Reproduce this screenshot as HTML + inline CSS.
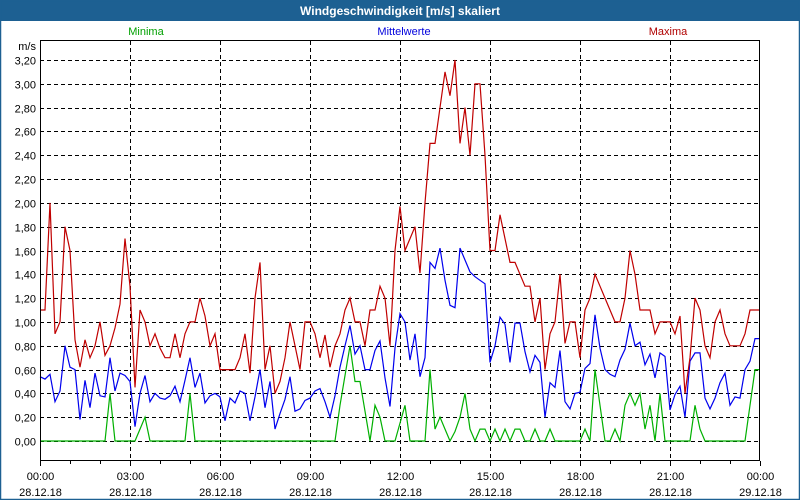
<!DOCTYPE html>
<html><head><meta charset="utf-8">
<style>
html,body{margin:0;padding:0;background:#fff;}
#wrap{position:relative;width:800px;height:500px;overflow:hidden;font-family:"Liberation Sans",sans-serif;}
svg text{font-family:"Liberation Sans",sans-serif;}
</style></head>
<body>
<div id="wrap">
<svg id="chart" width="800" height="500" xmlns="http://www.w3.org/2000/svg">
  <rect x="0" y="0" width="800" height="500" fill="#ffffff"/>
  <rect x="0" y="0" width="800" height="21" fill="#1d6092"/>
  <text x="400" y="15" text-anchor="middle" font-size="12" font-weight="bold" fill="#ffffff">Windgeschwindigkeit [m/s] skaliert</text>
  <rect x="0.5" y="0.5" width="799" height="499" fill="none" stroke="#1d6092" stroke-width="1.5"/>
  <text x="146" y="35" text-anchor="middle" font-size="11" fill="#00a000">Minima</text>
  <text x="404" y="35" text-anchor="middle" font-size="11" fill="#0000dd">Mittelwerte</text>
  <text x="668" y="35" text-anchor="middle" font-size="11" fill="#b00000">Maxima</text>
  <text x="36" y="50" text-anchor="end" font-size="11" fill="#000">m/s</text>
  <g id="grid"></g>
  <g id="series"></g>
  <rect x="40.5" y="40.5" width="719" height="420" fill="none" stroke="#000" stroke-width="1"/>
  <g id="axes"></g>
</svg>
</div>
<script>
const yTicks = [0,0.2,0.4,0.6,0.8,1.0,1.2,1.4,1.6,1.8,2.0,2.2,2.4,2.6,2.8,3.0,3.2];
const yTickLabels = ["0,00","0,20","0,40","0,60","0,80","1,00","1,20","1,40","1,60","1,80","2,00","2,20","2,40","2,60","2,80","3,00","3,20"];
const xTickHours = [0,3,6,9,12,15,18,21,24];
const xTickTimes = ["00:00","03:00","06:00","09:00","12:00","15:00","18:00","21:00","00:00"];
const xTickDates = ["28.12.18","28.12.18","28.12.18","28.12.18","28.12.18","28.12.18","28.12.18","28.12.18","29.12.18"];
const stepMinutes = 10;
const maxima = [1.1,1.1,2.0,0.9,1.0,1.8,1.6,0.85,0.62,0.85,0.7,0.8,1.0,0.72,0.8,0.95,1.15,1.7,1.3,0.45,1.1,1.0,0.8,0.9,0.78,0.7,0.7,0.9,0.7,0.9,1.0,1.0,1.2,1.05,0.8,0.9,0.6,0.6,0.6,0.6,0.7,0.9,0.57,1.2,1.5,0.6,0.8,0.4,0.5,0.7,1.0,0.8,0.6,1.0,1.0,0.9,0.7,0.89,0.62,0.8,0.9,1.1,1.2,1.0,1.0,0.8,1.1,1.1,1.3,1.2,0.8,1.6,1.97,1.6,1.7,1.8,1.41,2.0,2.5,2.5,2.8,3.1,2.9,3.2,2.5,2.8,2.4,3.0,3.0,2.4,1.6,1.6,1.9,1.7,1.5,1.5,1.4,1.3,1.3,1.0,1.2,0.6,0.9,1.0,1.4,0.82,1.0,1.0,0.7,1.1,1.2,1.4,1.3,1.2,1.1,1.0,1.0,1.2,1.6,1.4,1.1,1.1,1.1,0.9,1.0,1.0,1.0,0.9,1.05,0.4,0.7,1.2,1.1,0.8,0.7,1.0,1.1,0.9,0.8,0.8,0.8,0.9,1.1,1.1,1.1];
const mittelwerte = [0.54,0.52,0.56,0.33,0.42,0.8,0.62,0.6,0.18,0.51,0.28,0.57,0.38,0.37,0.7,0.42,0.57,0.55,0.5,0.12,0.4,0.55,0.33,0.4,0.36,0.35,0.38,0.46,0.33,0.51,0.7,0.45,0.57,0.32,0.38,0.4,0.37,0.17,0.36,0.32,0.42,0.4,0.17,0.37,0.6,0.28,0.5,0.1,0.23,0.35,0.54,0.25,0.27,0.34,0.36,0.42,0.44,0.33,0.2,0.38,0.62,0.8,0.97,0.73,0.8,0.6,0.6,0.76,0.84,0.53,0.29,0.78,1.07,1.0,0.68,0.9,0.54,0.7,1.5,1.45,1.62,1.35,1.14,1.12,1.62,1.52,1.42,1.38,1.35,1.32,0.66,0.8,1.04,0.98,0.66,0.99,0.99,0.75,0.58,0.72,0.66,0.2,0.49,0.45,0.76,0.33,0.27,0.4,0.41,0.61,0.65,1.06,0.78,0.6,0.56,0.54,0.68,0.77,0.99,0.8,0.83,0.64,0.73,0.53,0.74,0.71,0.26,0.39,0.46,0.2,0.67,0.74,0.74,0.36,0.27,0.36,0.49,0.57,0.3,0.37,0.36,0.6,0.67,0.86,0.86];
const minima = [0,0,0,0,0,0,0,0,0,0,0,0,0,0,0.4,0,0,0,0,0,0.1,0.2,0,0,0,0,0,0,0,0,0.4,0,0,0,0,0,0,0,0,0,0,0,0,0,0,0,0,0,0,0,0,0,0,0,0,0,0,0,0,0,0.3,0.55,0.8,0.5,0.5,0.25,0,0.3,0.2,0,0,0,0.15,0.3,0,0,0,0,0.6,0.1,0.2,0.1,0,0.08,0.2,0.4,0.1,0,0.1,0.1,0,0.1,0,0.1,0,0.1,0.1,0,0,0.1,0,0,0.1,0,0,0,0,0,0,0.1,0,0.6,0.3,0,0,0.1,0,0.3,0.4,0.3,0.4,0.1,0.3,0,0.4,0,0,0,0,0,0,0.3,0.1,0,0,0,0,0,0,0,0,0,0.3,0.6,0.6];

const NS = "http://www.w3.org/2000/svg";
const X0 = 40, X1 = 760, Y0V = 441, PX_PER_UNIT = 119.06;
function xScaleHour(h){ return X0 + h * (X1 - X0) / 24; }
function yScale(v){ return Y0V - v * PX_PER_UNIT; }
function mk(tag, attrs, parent){
  const el = document.createElementNS(NS, tag);
  for (const k in attrs) el.setAttribute(k, attrs[k]);
  parent.appendChild(el);
  return el;
}
const grid = document.getElementById('grid');
const axes = document.getElementById('axes');
const series = document.getElementById('series');

yTicks.forEach((v, i) => {
  const y = Math.round(yScale(v)) + 0.5;
  const ln = mk('line', {x1: X0, x2: X1, y1: y, y2: y, stroke: '#000', 'stroke-width': 1, 'stroke-dasharray': '4,3'}, grid);
  
  
  const t = mk('text', {x: 36, y: y + 4, 'text-anchor': 'end', 'font-size': 11, fill: '#000'}, axes);
  t.textContent = yTickLabels[i];
  
  
});

for (let h = 0; h <= 24; h++) {
  const x = Math.round(xScaleHour(h)) + 0.5;
  const major = h % 3 === 0;
  const tk = mk('line', {x1: x, x2: x, y1: 461, y2: major ? 466 : 464, stroke: '#000', 'stroke-width': 1}, axes);
  
  
}

xTickHours.forEach((h, i) => {
  const x = Math.round(xScaleHour(h)) + 0.5;
  if (h > 0 && h < 24) {
    const g = mk('line', {x1: x, x2: x, y1: 41, y2: 461, stroke: '#000', 'stroke-width': 1, 'stroke-dasharray': '4,3'}, grid);
    
    
  }
  const t1 = mk('text', {x: x, y: 480, 'text-anchor': 'middle', 'font-size': 11, fill: '#000'}, axes);
  t1.textContent = xTickTimes[i];
  
  
  const t2 = mk('text', {x: x, y: 496, 'text-anchor': 'middle', 'font-size': 11, fill: '#000'}, axes);
  t2.textContent = xTickDates[i];
  
  
});

function drawLine(arr, color, name){
  const pts = arr.map((v, i) => xScaleHour(i * stepMinutes / 60).toFixed(1) + ',' + yScale(v).toFixed(1)).join(' ');
  const pl = mk('polyline', {points: pts, fill: 'none', stroke: color, 'stroke-width': 1.2, 'stroke-linejoin': 'miter'}, series);
  
  
}
drawLine(minima, '#00b000', 'minima-line');
drawLine(mittelwerte, '#0000ee', 'mittelwerte-line');
drawLine(maxima, '#c00000', 'maxima-line');
</script>
</body></html>
